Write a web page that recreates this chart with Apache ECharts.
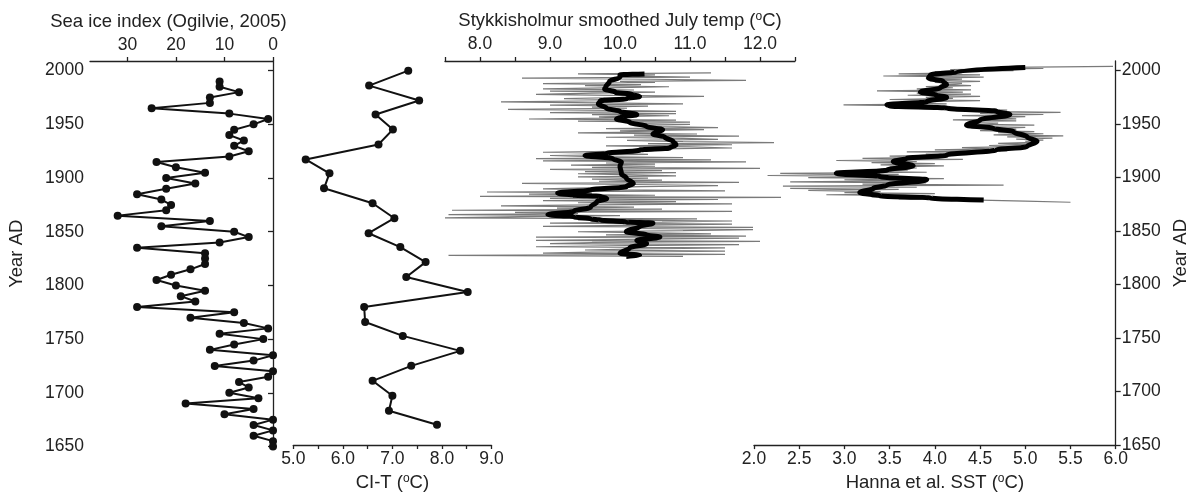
<!DOCTYPE html>
<html>
<head>
<meta charset="utf-8">
<script src="https://cdn.jsdelivr.net/npm/echarts@6/dist/echarts.min.js"></script>
<style>
  html, body { margin: 0; padding: 0; background: #fff; }
  #box { width: 1196px; height: 497px; }
</style>
</head>
<body>
<div id="box"></div>
<script>
// sea ice index, 5-yearly (Ogilvie 2005)
const seaIceYears = [1990,1985,1980,1975,1970,1965,1960,1955,1950,1945,1940,1935,1930,1925,1920,1915,1910,1905,1900,1895,1890,1885,1880,1875,1870,1865,1860,1855,1850,1845,1840,1835,1830,
  1825,1820,1815,1810,1805,1800,1795,1790,1785,1780,1775,1770,1765,1760,1755,1750,1745,1740,1735,1730,1725,1720,1715,1710,1705,1700,1695,1690,1685,1680,1675,1670,1665,1660,1655,1650];
const seaIceIndex = [11,11,7,13,13,25,9,1,4,8,9,6,8,5,9,24,20,14,22,16,22,28,23,21,22,32,13,23,8,5,11,28,14,
  14,14,17,21,24,20,14,19,16,28,8,17,6,1,11,2,8,13,0,4,12,0,1,7,5,9,3,18,4,10,0,4,0,4,0,0];

// CI-T
const citYears = [2000,1986,1972,1959,1945,1931,1917,1904,1890,1876,1862,1848,1835,1821,1807,1793,1779,1765,1752,1738,1724,1710,1696,1682,1669];
const citTemp = [7.32,6.53,7.54,6.66,7.01,6.72,5.25,5.73,5.62,6.60,7.04,6.52,7.16,7.67,7.28,8.52,6.43,6.45,7.21,8.37,7.38,6.60,7.00,6.93,7.90];

// Stykkisholmur July temp, annual from 1998 backwards
const styStartYear = 1998;
const styAnnual = [
  11.3,9.4,10.5,10.1,11.0,8.6,10.4,11.8,10.0,10.5,
  8.9,10.3,9.5,10.7,9.8,8.9,10.2,9.0,10.5,9.6,
  8.8,9.9,11.2,10.0,9.2,10.1,9.8,8.3,9.7,10.9,
  9.0,10.4,9.6,10.1,8.4,9.9,10.8,9.0,10.8,9.6,
  10.7,9.7,10.1,8.7,10.8,9.4,11.0,10.1,11.0,10.2,
  10.6,11.4,9.8,11.2,10.0,10.6,9.4,11.1,10.2,11.7,
  9.8,10.9,11.4,10.1,10.9,12.2,10.4,11.6,9.8,11.0,
  11.6,10.3,10.7,10.1,8.9,9.9,10.4,9.0,9.6,10.9,
  8.8,11.3,8.9,11.8,9.8,10.5,9.3,10.5,9.6,12.0,
  9.0,10.6,9.5,10.8,9.4,10.2,10.8,9.4,10.4,9.6,
  10.6,9.7,11.7,8.6,10.2,11.4,10.3,9.7,8.9,10.0,
  11.5,8.1,9.6,8.7,10.5,8.0,12.3,9.0,11.4,8.9,
  10.8,9.4,11.6,9.6,8.3,10.2,9.1,10.6,7.6,11.6,
  8.5,9.4,7.55,10.0,8.6,7.5,11.1,9.4,11.6,10.6,
  9.0,11.6,10.1,8.9,11.9,10.2,11.9,10.9,9.4,10.5,
  11.3,9.8,11.8,8.8,11.7,10.4,8.8,12.0,9.6,9.0,
  11.7,10.1,8.8,11.5,10.3,9.5,11.5,9.6,8.9,11.5,
  7.55,10.9
];
const styTrendYears = [1997,1996,1994,1990,1985,1983,1980,1978,1976,1974,1972,1969,1965,1962,1959,1957,1955,1952,1948,1945,
  1941,1938,1934,1931,1928,1926,1923,1921,1918,1915,1911,1904,1900,1895,1892,1889,1886,1884,1883,1881,
  1878,1873,1869,1866,1864,1862,1861,1859,1858,1855,1850,1847,1845,1842,1839,1835,1830,1828,1827];
const styTrend = [10.35,10.0,10.0,9.85,9.8,9.78,9.93,10.17,10.28,10.1,9.72,9.69,9.81,10.0,10.24,10.02,9.95,10.14,10.38,10.61,
  10.47,10.64,10.76,10.8,10.71,10.28,9.81,9.5,9.9,10.02,10.0,10.02,10.09,10.19,10.09,9.58,9.11,9.34,9.72,9.81,
  9.67,9.58,9.34,8.97,9.34,9.58,9.72,10.09,10.47,10.28,10.09,10.38,10.57,10.24,10.38,10.14,10.0,10.28,10.09];

// Hanna et al. SST, annual from 2004 backwards
const sstStartYear = 2004;
const sstAnnual = [
  5.97,4.8,5.2,4.17,4.87,4.0,4.3,3.6,4.5,3.43,
  4.54,3.9,4.3,3.95,4.5,4.0,4.3,4.1,4.4,3.9,
  4.2,3.8,4.4,3.36,4.31,3.8,4.4,3.7,4.5,3.9,
  4.2,3.5,4.5,3.9,3.6,4.13,2.99,3.8,3.6,4.4,
  4.2,4.8,4.46,5.39,4.5,5.2,4.3,5.0,4.6,4.9,
  4.2,4.9,4.4,4.7,4.35,5.1,4.5,5.0,4.7,4.9,
  4.5,5.1,4.7,5.2,4.65,5.42,4.8,5.3,4.9,5.2,
  5.0,5.1,4.7,5.1,4.6,4.9,4.3,4.6,4.0,4.8,
  3.69,4.4,3.9,4.2,3.5,4.0,3.2,4.31,2.91,3.8,
  3.3,4.0,3.4,4.1,3.5,3.8,3.4,3.7,2.9,3.91,
  2.29,3.6,2.15,3.5,2.6,4.1,3.0,3.7,2.4,3.9,
  3.2,4.76,2.32,3.8,2.4,3.6,2.6,3.4,3.0,4.0,
  2.8,3.9,3.3,4.2,3.6,4.5,5.0,5.5
];
const sstTrendYears = [2003,1999,1996,1993,1990,1987,1984,1980,1977,1975,1971,1968,1967,1965,1962,1959,1954,1949,1946,1943,
  1938,1934,1929,1926,1921,1918,1915,1911,1907,1904,1901,1898,1893,1890,1886,1883,1881,1879];
const sstTrend = [5.0,4.24,3.95,3.93,4.09,4.13,4.06,3.84,4.02,4.13,3.91,3.47,3.50,4.13,4.68,4.83,4.50,4.35,4.65,4.87,
  5.02,5.13,5.02,4.68,4.13,3.69,3.54,3.76,3.47,2.91,3.39,3.91,3.47,3.32,3.17,3.39,3.95,4.54];

const yearTicks = [1650,1700,1750,1800,1850,1900,1950,2000];
const seaIceTicks = [0,10,20,30];

const FONT = '"Liberation Sans", Arial, Helvetica, sans-serif';
const INK = '#222';
const TOP = 61, HEIGHT = 385.5;

const pairs = (xs, ys) => xs.map((x, i) => [x, ys[i]]);
const fromStart = (start, vals) => vals.map((v, i) => [v, start - i]);

const axisLine = { show: true, lineStyle: { color: INK, width: 1.3 } };
const label = { color: INK, fontFamily: FONT, fontSize: 17.5 };
const nameStyle = {
  color: INK, fontFamily: FONT, fontSize: 18.5,
  rich: { sup: { fontFamily: FONT, fontSize: 12, color: INK, verticalAlign: 'top', lineHeight: 12 } }
};
const halfLabel = v => (Math.abs(v - Math.round(v)) < 1e-6 ? v.toFixed(1) : '');

function yearAxis(grid, pos, visible) {
  return {
    type: 'value', gridIndex: grid, position: pos, show: visible,
    min: 1650, max: 2009, interval: 50,
    axisLine: axisLine,
    axisTick: { show: true, length: 5, customValues: yearTicks, lineStyle: { color: INK, width: 1.3 } },
    axisLabel: Object.assign({ margin: 6, customValues: yearTicks, formatter: v => String(v) }, label),
    splitLine: { show: false },
    name: 'Year AD', nameLocation: 'middle', nameRotate: 90,
    nameGap: pos === 'left' ? 64 : 56,
    nameTextStyle: nameStyle
  };
}

const chart = echarts.init(document.getElementById('box'));
const option = {
  animation: false,
  backgroundColor: '#fff',
  grid: [
    { left: 90, top: TOP, width: 183, height: HEIGHT },
    { left: 293.3, top: TOP, width: 198.2, height: HEIGHT },
    { left: 445, top: TOP, width: 350, height: HEIGHT },
    { left: 754, top: TOP, width: 361.7, height: HEIGHT }
  ],
  xAxis: [
    {
      type: 'value', gridIndex: 0, position: 'top', inverse: true, min: 0, max: 37.7,
      axisLine: axisLine,
      axisTick: { length: 4, customValues: seaIceTicks, lineStyle: { color: INK, width: 1.3 } },
      axisLabel: Object.assign({ margin: 7, customValues: seaIceTicks }, label),
      splitLine: { show: false },
      name: 'Sea ice index (Ogilvie, 2005)', nameLocation: 'middle', nameGap: 30,
      nameTextStyle: Object.assign({}, nameStyle, { padding: [0, 26, 0, 0] })
    },
    {
      type: 'value', gridIndex: 1, position: 'bottom', min: 5, max: 9, interval: 0.5,
      axisLine: axisLine,
      axisTick: { length: 4, lineStyle: { color: INK, width: 1.3 } },
      axisLabel: Object.assign({ margin: 5, interval: 0, showMinLabel: true, showMaxLabel: true, formatter: halfLabel }, label),
      splitLine: { show: false },
      name: 'CI-T ({sup|o}C)', nameLocation: 'middle', nameGap: 28,
      nameTextStyle: nameStyle
    },
    {
      type: 'value', gridIndex: 2, position: 'top', min: 7.5, max: 12.5, interval: 0.5,
      axisLine: axisLine,
      axisTick: { length: 4, lineStyle: { color: INK, width: 1.3 } },
      axisLabel: Object.assign({ margin: 8, interval: 0, formatter: halfLabel }, label),
      splitLine: { show: false },
      name: 'Stykkisholmur smoothed July temp ({sup|o}C)', nameLocation: 'middle', nameGap: 30,
      nameTextStyle: nameStyle
    },
    {
      type: 'value', gridIndex: 3, position: 'bottom', min: 2, max: 6, interval: 0.5,
      axisLine: axisLine,
      axisTick: { length: 4, lineStyle: { color: INK, width: 1.3 } },
      axisLabel: Object.assign({ margin: 5, interval: 0, showMinLabel: true, showMaxLabel: true,
        formatter: v => v.toFixed(1) }, label),
      splitLine: { show: false },
      name: 'Hanna et al. SST ({sup|o}C)', nameLocation: 'middle', nameGap: 27,
      nameTextStyle: nameStyle
    }
  ],
  yAxis: [
    yearAxis(0, 'left', true),
    yearAxis(1, 'left', false),
    yearAxis(2, 'left', false),
    yearAxis(3, 'right', true)
  ],
  series: [
    {
      name: 'Sea ice', type: 'line', xAxisIndex: 0, yAxisIndex: 0,
      data: pairs(seaIceIndex, seaIceYears), clip: false,
      symbol: 'circle', symbolSize: 8,
      lineStyle: { color: '#111', width: 2 }, itemStyle: { color: '#111' }
    },
    {
      name: 'CI-T', type: 'line', xAxisIndex: 1, yAxisIndex: 1,
      data: pairs(citTemp, citYears),
      symbol: 'circle', symbolSize: 8,
      lineStyle: { color: '#111', width: 2 }, itemStyle: { color: '#111' }
    },
    {
      name: 'Stykkisholmur annual', type: 'line', xAxisIndex: 2, yAxisIndex: 2,
      data: fromStart(styStartYear, styAnnual), showSymbol: false,
      lineStyle: { color: '#7a7a7a', width: 1.2 }
    },
    {
      name: 'Stykkisholmur smoothed', type: 'line', xAxisIndex: 2, yAxisIndex: 2,
      data: pairs(styTrend, styTrendYears), showSymbol: false,
      smooth: 0.4, smoothMonotone: 'y',
      lineStyle: { color: '#000', width: 5 }
    },
    {
      name: 'SST annual', type: 'line', xAxisIndex: 3, yAxisIndex: 3,
      data: fromStart(sstStartYear, sstAnnual), showSymbol: false,
      lineStyle: { color: '#7a7a7a', width: 1.2 }
    },
    {
      name: 'SST smoothed', type: 'line', xAxisIndex: 3, yAxisIndex: 3,
      data: pairs(sstTrend, sstTrendYears), showSymbol: false,
      smooth: 0.4, smoothMonotone: 'y',
      lineStyle: { color: '#000', width: 5 }
    }
  ]
};
chart.setOption(option);
</script>
</body>
</html>
